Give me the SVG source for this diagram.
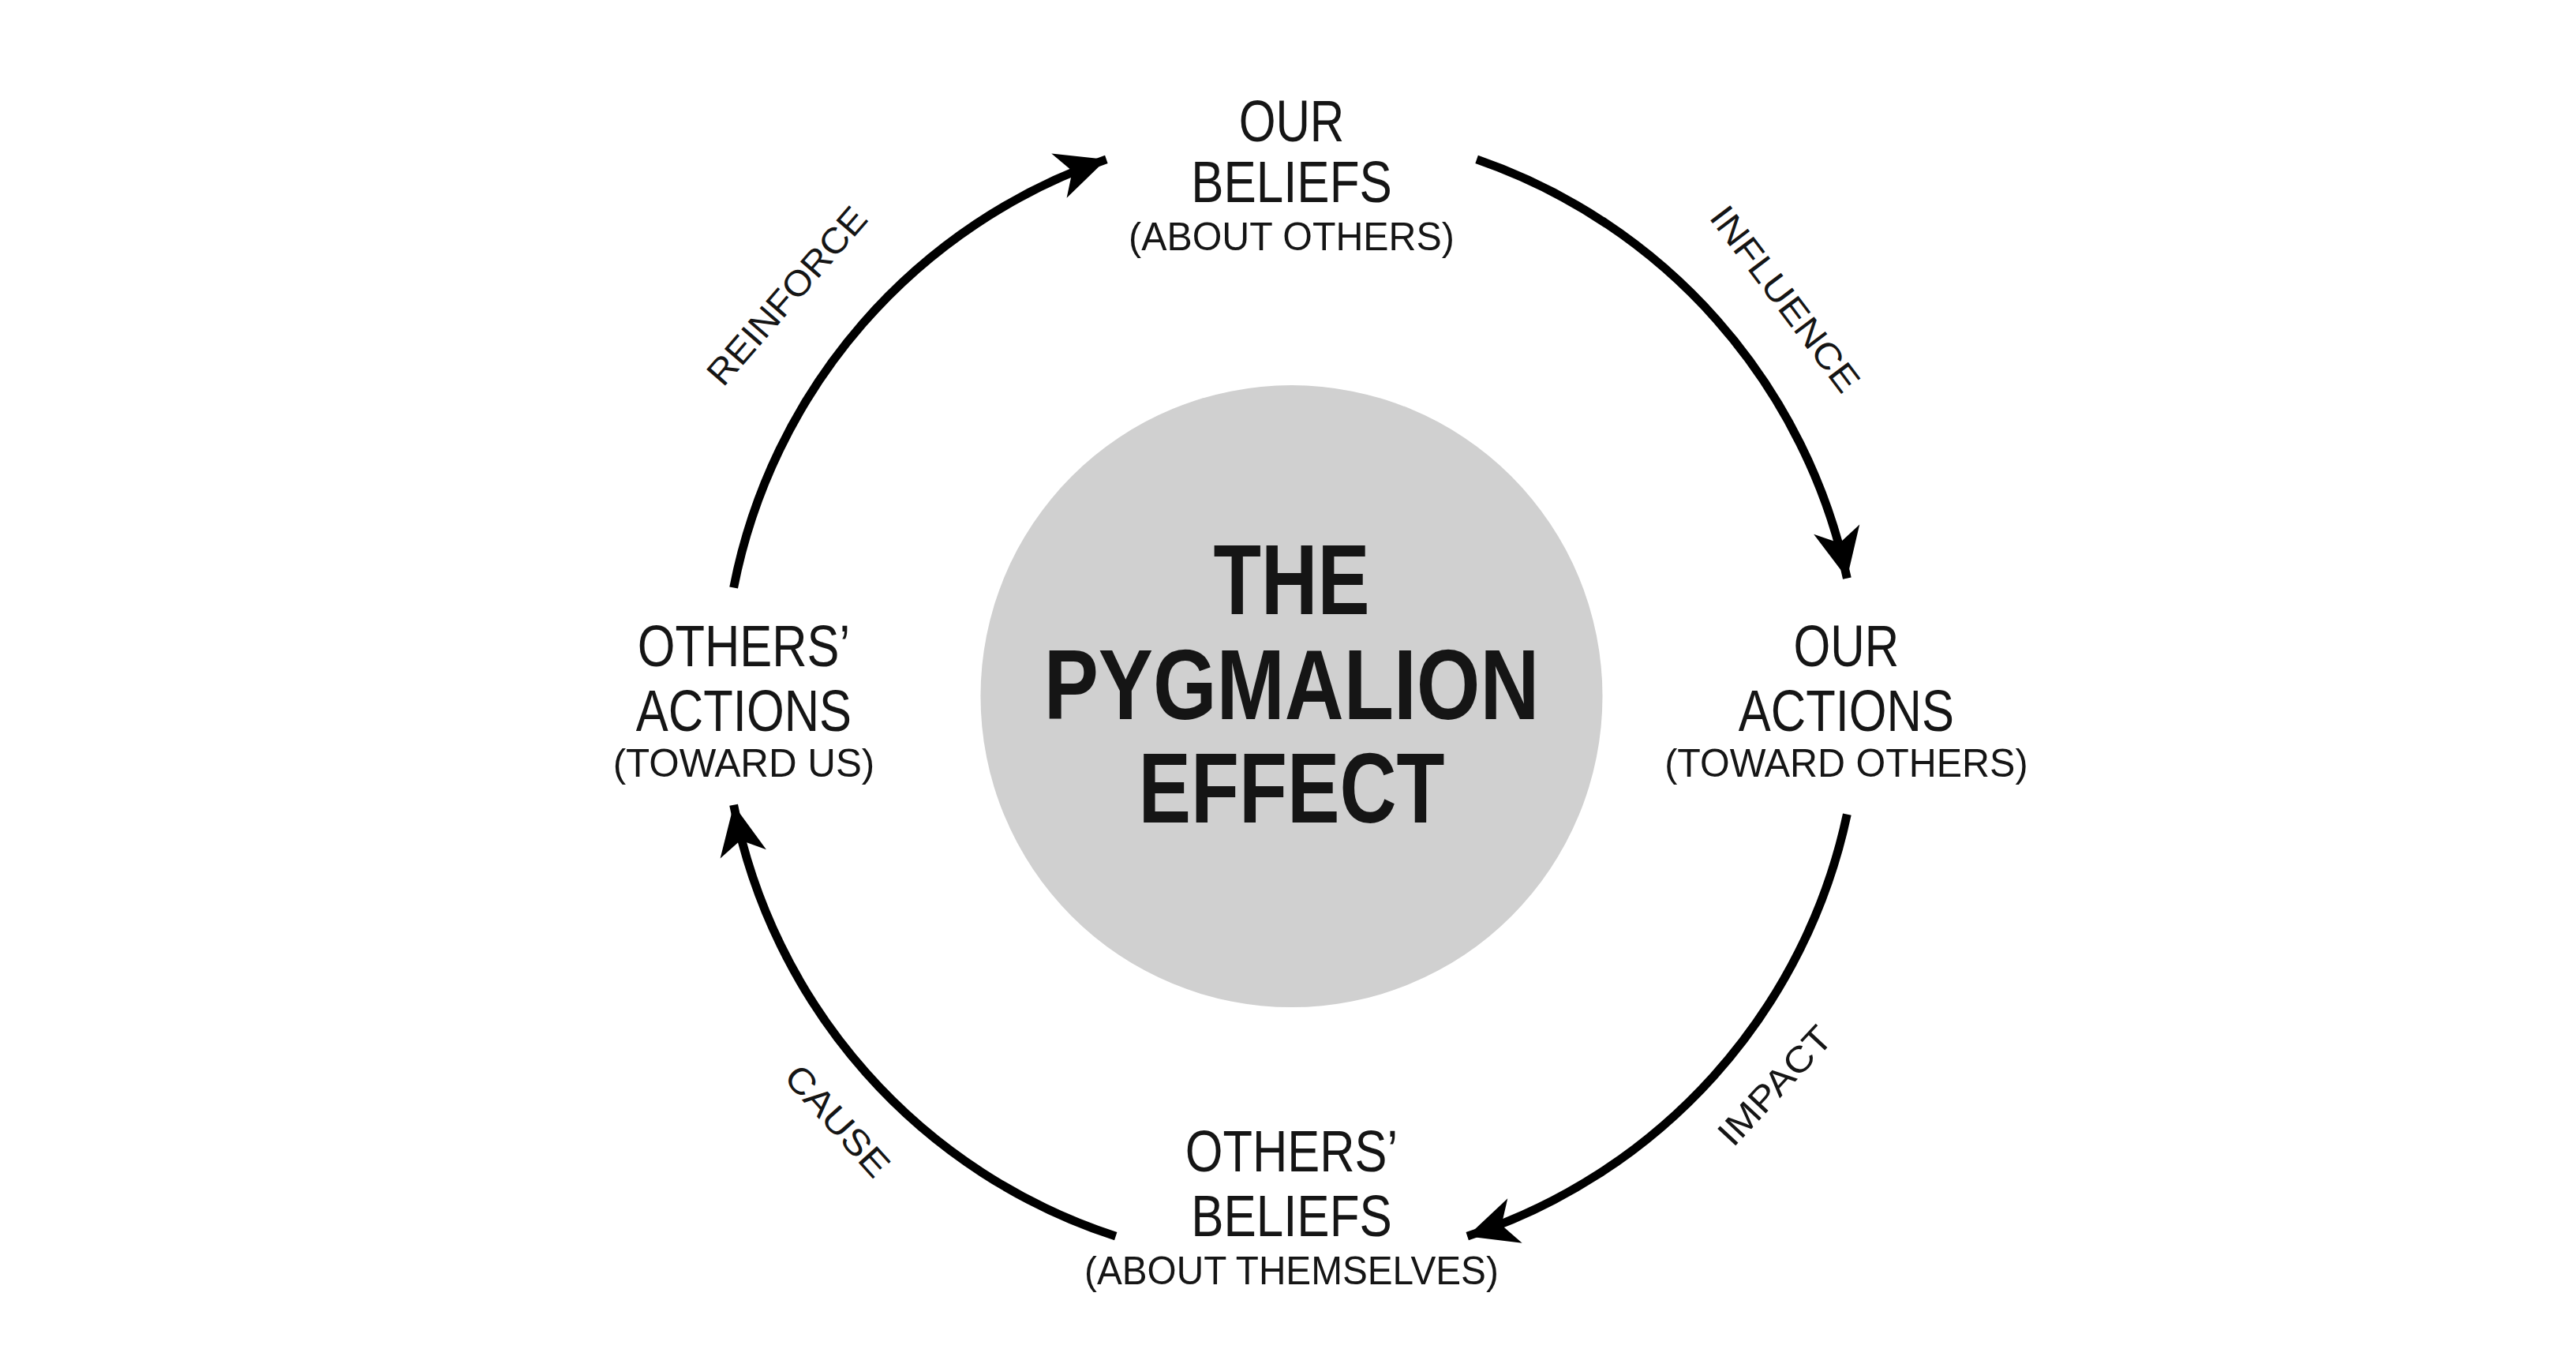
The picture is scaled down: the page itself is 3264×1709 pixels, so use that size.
<svg xmlns="http://www.w3.org/2000/svg" width="3264" height="1709" viewBox="0 0 3264 1709">
<style>
.t{font-family:"Liberation Sans",Arial,sans-serif;fill:#151515;text-anchor:middle}
.n{font-size:74px}
.s{font-size:50px}
.l{font-size:46px}
.b{font-size:128px;font-weight:bold}
.c{fill:none;stroke:#000;stroke-width:11;marker-end:url(#ah)}
</style>
<defs>
<marker id="ah" markerUnits="userSpaceOnUse" markerWidth="80" markerHeight="80" viewBox="-70 -35 80 70" refX="0" refY="0" orient="auto">
<path d="M0,0 L-64,-30 L-46,0 L-64,30 Z" fill="#000"/>
</marker>
</defs>
<rect width="3264" height="1709" fill="#fff"/>
<g transform="scale(0.99)">
<g id="center">
<circle cx="1653" cy="891" r="398" fill="#d0d0d0"/>
<text class="t b" x="1653" y="786" textLength="200" lengthAdjust="spacingAndGlyphs">THE</text>
<text class="t b" x="1653" y="920" textLength="634" lengthAdjust="spacingAndGlyphs">PYGMALION</text>
<text class="t b" x="1653" y="1053" textLength="392" lengthAdjust="spacingAndGlyphs">EFFECT</text>
</g>
<g id="our-beliefs">
<text class="t n" x="1653" y="181" textLength="135" lengthAdjust="spacingAndGlyphs">OUR</text>
<text class="t n" x="1653" y="259" textLength="257" lengthAdjust="spacingAndGlyphs">BELIEFS</text>
<text class="t s" x="1653" y="320" textLength="417" lengthAdjust="spacingAndGlyphs">(ABOUT OTHERS)</text>
</g>
<g id="our-actions">
<text class="t n" x="2363" y="853" textLength="135" lengthAdjust="spacingAndGlyphs">OUR</text>
<text class="t n" x="2363" y="935" textLength="276" lengthAdjust="spacingAndGlyphs">ACTIONS</text>
<text class="t s" x="2363" y="994" textLength="465" lengthAdjust="spacingAndGlyphs">(TOWARD OTHERS)</text>
</g>
<g id="others-beliefs">
<text class="t n" x="1653" y="1499" textLength="272" lengthAdjust="spacingAndGlyphs">OTHERS’</text>
<text class="t n" x="1653" y="1582" textLength="257" lengthAdjust="spacingAndGlyphs">BELIEFS</text>
<text class="t s" x="1653" y="1643" textLength="530" lengthAdjust="spacingAndGlyphs">(ABOUT THEMSELVES)</text>
</g>
<g id="others-actions">
<text class="t n" x="952" y="853" textLength="272" lengthAdjust="spacingAndGlyphs">OTHERS’</text>
<text class="t n" x="952" y="935" textLength="276" lengthAdjust="spacingAndGlyphs">ACTIONS</text>
<text class="t s" x="952" y="994" textLength="335" lengthAdjust="spacingAndGlyphs">(TOWARD US)</text>
</g>
<g id="connectors">
<path class="c" d="M939,752 A727,727 0 0 1 1416,204"/>
<path class="c" d="M1890,204 A727,727 0 0 1 2364,740"/>
<path class="c" d="M2364,1042 A727,727 0 0 1 1878,1582"/>
<path class="c" d="M1428,1582 A727,727 0 0 1 939,1030"/>
<text class="t l" transform="translate(1019,389) rotate(-49)" textLength="285" lengthAdjust="spacingAndGlyphs">REINFORCE</text>
<text class="t l" transform="translate(2272,392) rotate(53)" textLength="285" lengthAdjust="spacingAndGlyphs">INFLUENCE</text>
<text class="t l" transform="translate(2283,1400) rotate(-47)" textLength="190" lengthAdjust="spacingAndGlyphs">IMPACT</text>
<text class="t l" transform="translate(1060,1445) rotate(48)" textLength="175" lengthAdjust="spacingAndGlyphs">CAUSE</text>
</g>
</g>
</svg>
